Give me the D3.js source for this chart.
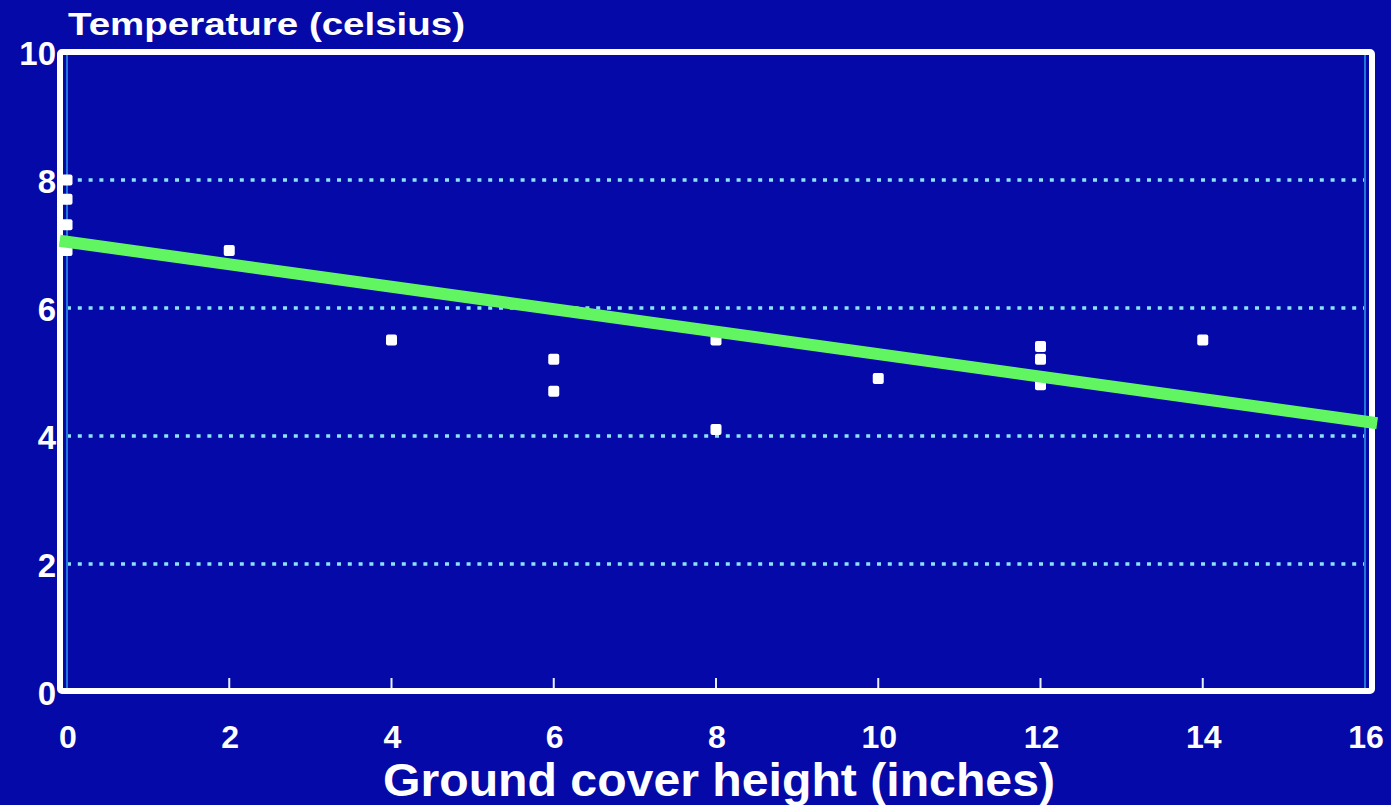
<!DOCTYPE html>
<html>
<head>
<meta charset="utf-8">
<script src="https://cdn.jsdelivr.net/npm/d3@7"></script>
<style>
  html, body { margin: 0; padding: 0; background: #0409a8; }
  svg { display: block; }
  text { font-family: "Liberation Sans", Arial, sans-serif; font-weight: bold; fill: #ffffff; }
</style>
</head>
<body>
<svg id="chart" width="1391" height="805"></svg>
<script>
// ---- data ----
const pointX = [0, 0, 0, 0, 2, 4, 6, 6, 8, 8, 10, 12, 12, 12, 14];
const pointY = [8.0, 7.7, 7.3, 6.9, 6.9, 5.5, 5.2, 4.7, 5.5, 4.1, 4.9, 5.4, 5.2, 4.8, 5.5];
const trendX = [-0.09, 16.15];
const trendY = [7.05, 4.2];
const xTicks = [0, 2, 4, 6, 8, 10, 12, 14, 16];
const yTicks = [0, 2, 4, 6, 8, 10];
const gridValues = [2, 4, 6, 8];
const yTitle = "Temperature (celsius)";
const xTitle = "Ground cover height (inches)";

const svg = d3.select("#chart");
const W = 1391, H = 805;
svg.append("rect").attr("width", W).attr("height", H).attr("fill", "#0409a8");

const x = d3.scaleLinear().domain([0, 16]).range([67, 1365]);
const y = d3.scaleLinear().domain([0, 10]).range([692, 52]);

// dotted gridlines
svg.append("g").selectAll("line").data(gridValues).join("line")
  .attr("x1", x(0)).attr("x2", x(16))
  .attr("y1", d => y(d)).attr("y2", d => y(d))
  .attr("stroke", "#8ae4f6").attr("stroke-width", 3.5)
  .attr("stroke-dasharray", "4 6.8").attr("stroke-linecap", "butt");

// thin inner axis lines (original plot borders)
svg.append("g").selectAll("line").data([0, 16]).join("line")
  .attr("x1", d => x(d)).attr("x2", d => x(d))
  .attr("y1", y(10)).attr("y2", y(0))
  .attr("stroke", "#1f78d8").attr("stroke-width", 2);

// bottom tick marks
svg.append("g").selectAll("line").data(xTicks.filter(d => d > 0 && d < 16)).join("line")
  .attr("x1", d => x(d)).attr("x2", d => x(d))
  .attr("y1", y(0) - 14).attr("y2", y(0))
  .attr("stroke", "#e8f0ff").attr("stroke-width", 2);

// frame
svg.append("rect")
  .attr("x", 60).attr("y", 52)
  .attr("width", 1312).attr("height", 639)
  .attr("rx", 2)
  .attr("fill", "none").attr("stroke", "#ffffff").attr("stroke-width", 6);

// points
const pts = pointX.map((v, i) => ({ x: v, y: pointY[i] }));
svg.append("g").selectAll("rect").data(pts).join("rect")
  .attr("x", d => x(d.x) - 5.5).attr("y", d => y(d.y) - 5.5)
  .attr("width", 11).attr("height", 11).attr("rx", 2)
  .attr("fill", "#ffffff");

// trend line
const line = d3.line().x(d => x(d[0])).y(d => y(d[1]));
svg.append("path")
  .datum(trendX.map((v, i) => [v, trendY[i]]))
  .attr("d", line)
  .attr("fill", "none").attr("stroke", "#62f562").attr("stroke-width", 12);

// y tick labels
svg.append("g").selectAll("text").data(yTicks).join("text")
  .attr("x", 56).attr("y", d => y(d) + 13)
  .attr("text-anchor", "end")
  .attr("font-size", 33)
  .text(d => d);

// x tick labels
svg.append("g").selectAll("text").data(xTicks).join("text")
  .attr("x", d => x(d) + 1).attr("y", 748)
  .attr("text-anchor", "middle")
  .attr("font-size", 32)
  .text(d => d);

// titles
svg.append("text")
  .attr("x", 68).attr("y", 35)
  .attr("font-size", 32)
  .attr("textLength", 397).attr("lengthAdjust", "spacingAndGlyphs")
  .text(yTitle);

svg.append("text")
  .attr("x", 383).attr("y", 796)
  .attr("font-size", 46)
  .attr("textLength", 672).attr("lengthAdjust", "spacingAndGlyphs")
  .text(xTitle);
</script>
</body>
</html>
